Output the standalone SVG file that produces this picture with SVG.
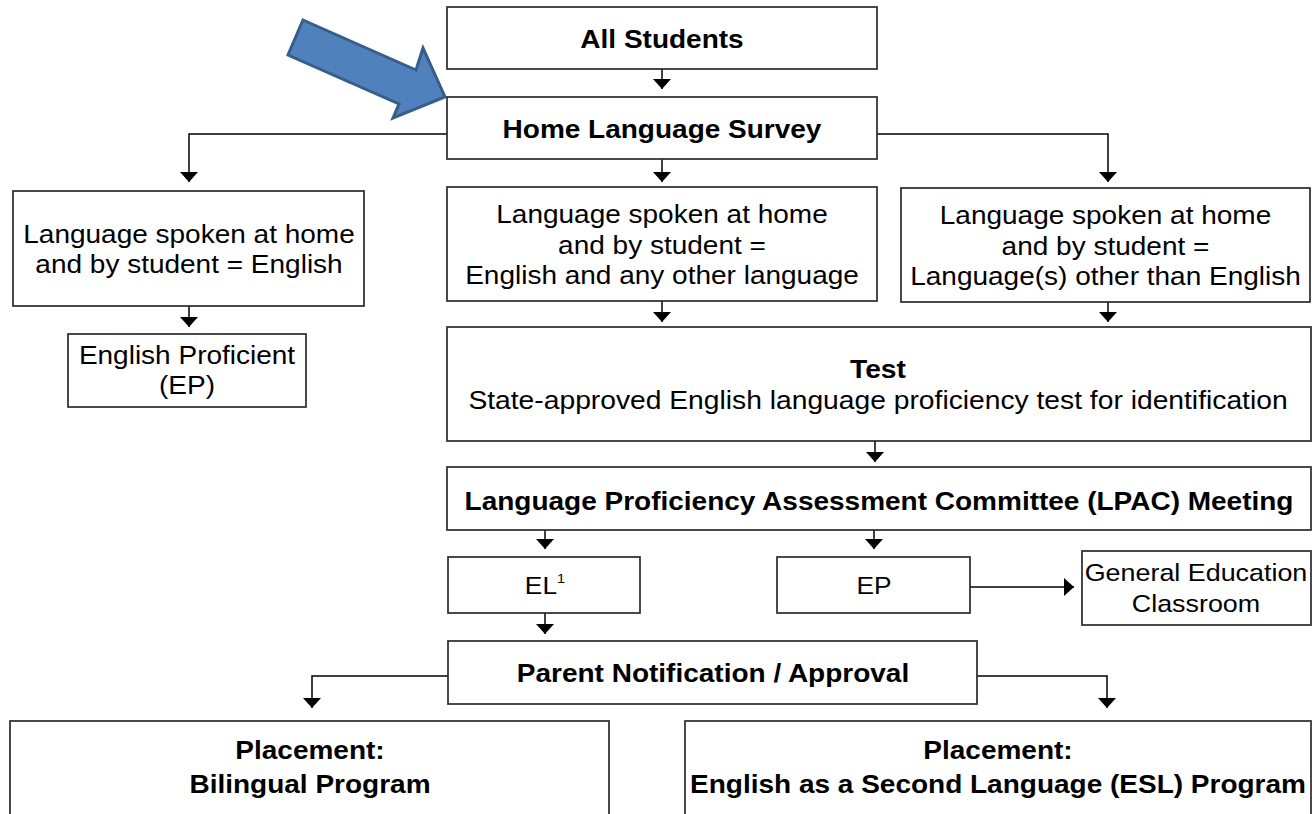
<svg xmlns="http://www.w3.org/2000/svg" width="1312" height="814" viewBox="0 0 1312 814">
<style>
.box{fill:#fff;stroke:#2a2a2a;stroke-width:1.7}
.t{font-family:"Liberation Sans",Arial,sans-serif;font-size:25px;fill:#000;text-anchor:middle}
.b{font-weight:bold}
.c{fill:none;stroke:#000;stroke-width:1.5}
</style>
<defs>
<marker id="ah" viewBox="0 -9 10 18" refX="10" refY="0" markerWidth="10" markerHeight="18" markerUnits="userSpaceOnUse" orient="auto">
<path d="M0,-9 L10,0 L0,9 z" fill="#000"/>
</marker>
</defs>
<rect width="1312" height="814" fill="#fff"/>

<g id="connectors">
<path class="c" d="M662,69 V89" marker-end="url(#ah)"/>
<path class="c" d="M447,134 H189 V182" marker-end="url(#ah)"/>
<path class="c" d="M877,134 H1108 V182" marker-end="url(#ah)"/>
<path class="c" d="M662,159 V182" marker-end="url(#ah)"/>
<path class="c" d="M189,306 V327" marker-end="url(#ah)"/>
<path class="c" d="M662,301 V322" marker-end="url(#ah)"/>
<path class="c" d="M1108,302 V322" marker-end="url(#ah)"/>
<path class="c" d="M875,441 V462" marker-end="url(#ah)"/>
<path class="c" d="M545,530 V549" marker-end="url(#ah)"/>
<path class="c" d="M874,530 V549" marker-end="url(#ah)"/>
<path class="c" d="M970,587 H1074" marker-end="url(#ah)"/>
<path class="c" d="M545,613 V634" marker-end="url(#ah)"/>
<path class="c" d="M448,676 H312 V708" marker-end="url(#ah)"/>
<path class="c" d="M977,676 H1107 V708" marker-end="url(#ah)"/>
</g>

<g id="pointer">
<polygon points="303,20 416,70 423,48 445,97 393,118 399,104 288,55" fill="#4F81BD" stroke="#385D8A" stroke-width="3" stroke-linejoin="miter"/>
</g>

<g id="all-students">
<rect class="box" x="447" y="7" width="430" height="62"/>
<g transform="translate(662 0) scale(1.12 1)"><text class="t b" x="0" y="48">All Students</text></g>
</g>

<g id="home-language-survey">
<rect class="box" x="447" y="97" width="430" height="62"/>
<g transform="translate(662 0) scale(1.12 1)"><text class="t b" x="0" y="138">Home Language Survey</text></g>
</g>

<g id="english-home">
<rect class="box" x="13" y="191" width="351" height="115"/>
<g transform="translate(189 0) scale(1.12 1)">
<text class="t" x="0" y="243">Language spoken at home</text>
<text class="t" x="0" y="273">and by student = English</text>
</g>
</g>

<g id="english-proficient">
<rect class="box" x="68" y="334" width="238" height="73"/>
<g transform="translate(187 0) scale(1.12 1)">
<text class="t" x="0" y="364">English Proficient</text>
<text class="t" x="0" y="394">(EP)</text>
</g>
</g>

<g id="english-and-other">
<rect class="box" x="447" y="187" width="430" height="114"/>
<g transform="translate(662 0) scale(1.12 1)">
<text class="t" x="0" y="223">Language spoken at home</text>
<text class="t" x="0" y="254">and by student =</text>
<text class="t" x="0" y="284">English and any other language</text>
</g>
</g>

<g id="other-than-english">
<rect class="box" x="901" y="188" width="409" height="114"/>
<g transform="translate(1105.5 0) scale(1.12 1)">
<text class="t" x="0" y="224">Language spoken at home</text>
<text class="t" x="0" y="255">and by student =</text>
<text class="t" x="0" y="285">Language(s) other than English</text>
</g>
</g>

<g id="test">
<rect class="box" x="447" y="327" width="864" height="114"/>
<g transform="translate(878 0) scale(1.13 1)">
<text class="t b" x="0" y="378">Test</text>
<text class="t" x="0" y="409">State-approved English language proficiency test for identification</text>
</g>
</g>

<g id="lpac">
<rect class="box" x="447" y="467" width="864" height="63"/>
<g transform="translate(879 0) scale(1.12 1)"><text class="t b" x="0" y="510">Language Proficiency Assessment Committee (LPAC) Meeting</text></g>
</g>

<g id="el">
<rect class="box" x="448" y="557" width="192" height="56"/>
<g transform="translate(545 0) scale(1.12 1)"><text class="t" style="font-size:23.5px" x="0" y="594">EL<tspan style="font-size:13px" dy="-11">1</tspan></text></g>
</g>

<g id="ep">
<rect class="box" x="777" y="557" width="193" height="56"/>
<g transform="translate(874 0) scale(1.12 1)"><text class="t" style="font-size:23.5px" x="0" y="594">EP</text></g>
</g>

<g id="general-education">
<rect class="box" x="1082" y="551" width="229" height="74"/>
<g transform="translate(1196 0) scale(1.12 1)">
<text class="t" style="font-size:24px" x="0" y="581">General Education</text>
<text class="t" style="font-size:24px" x="0" y="612">Classroom</text>
</g>
</g>

<g id="parent-notification">
<rect class="box" x="448" y="641" width="529" height="63"/>
<g transform="translate(713 0) scale(1.12 1)"><text class="t b" x="0" y="682">Parent Notification / Approval</text></g>
</g>

<g id="placement-bilingual">
<rect class="box" x="10" y="721" width="599" height="110"/>
<g transform="translate(310 0) scale(1.12 1)">
<text class="t b" x="0" y="759">Placement:</text>
<text class="t b" x="0" y="793">Bilingual Program</text>
</g>
</g>

<g id="placement-esl">
<rect class="box" x="685" y="721" width="626" height="110"/>
<g transform="translate(998 0) scale(1.12 1)">
<text class="t b" x="0" y="759">Placement:</text>
<text class="t b" x="0" y="793">English as a Second Language (ESL) Program</text>
</g>
</g>
</svg>
